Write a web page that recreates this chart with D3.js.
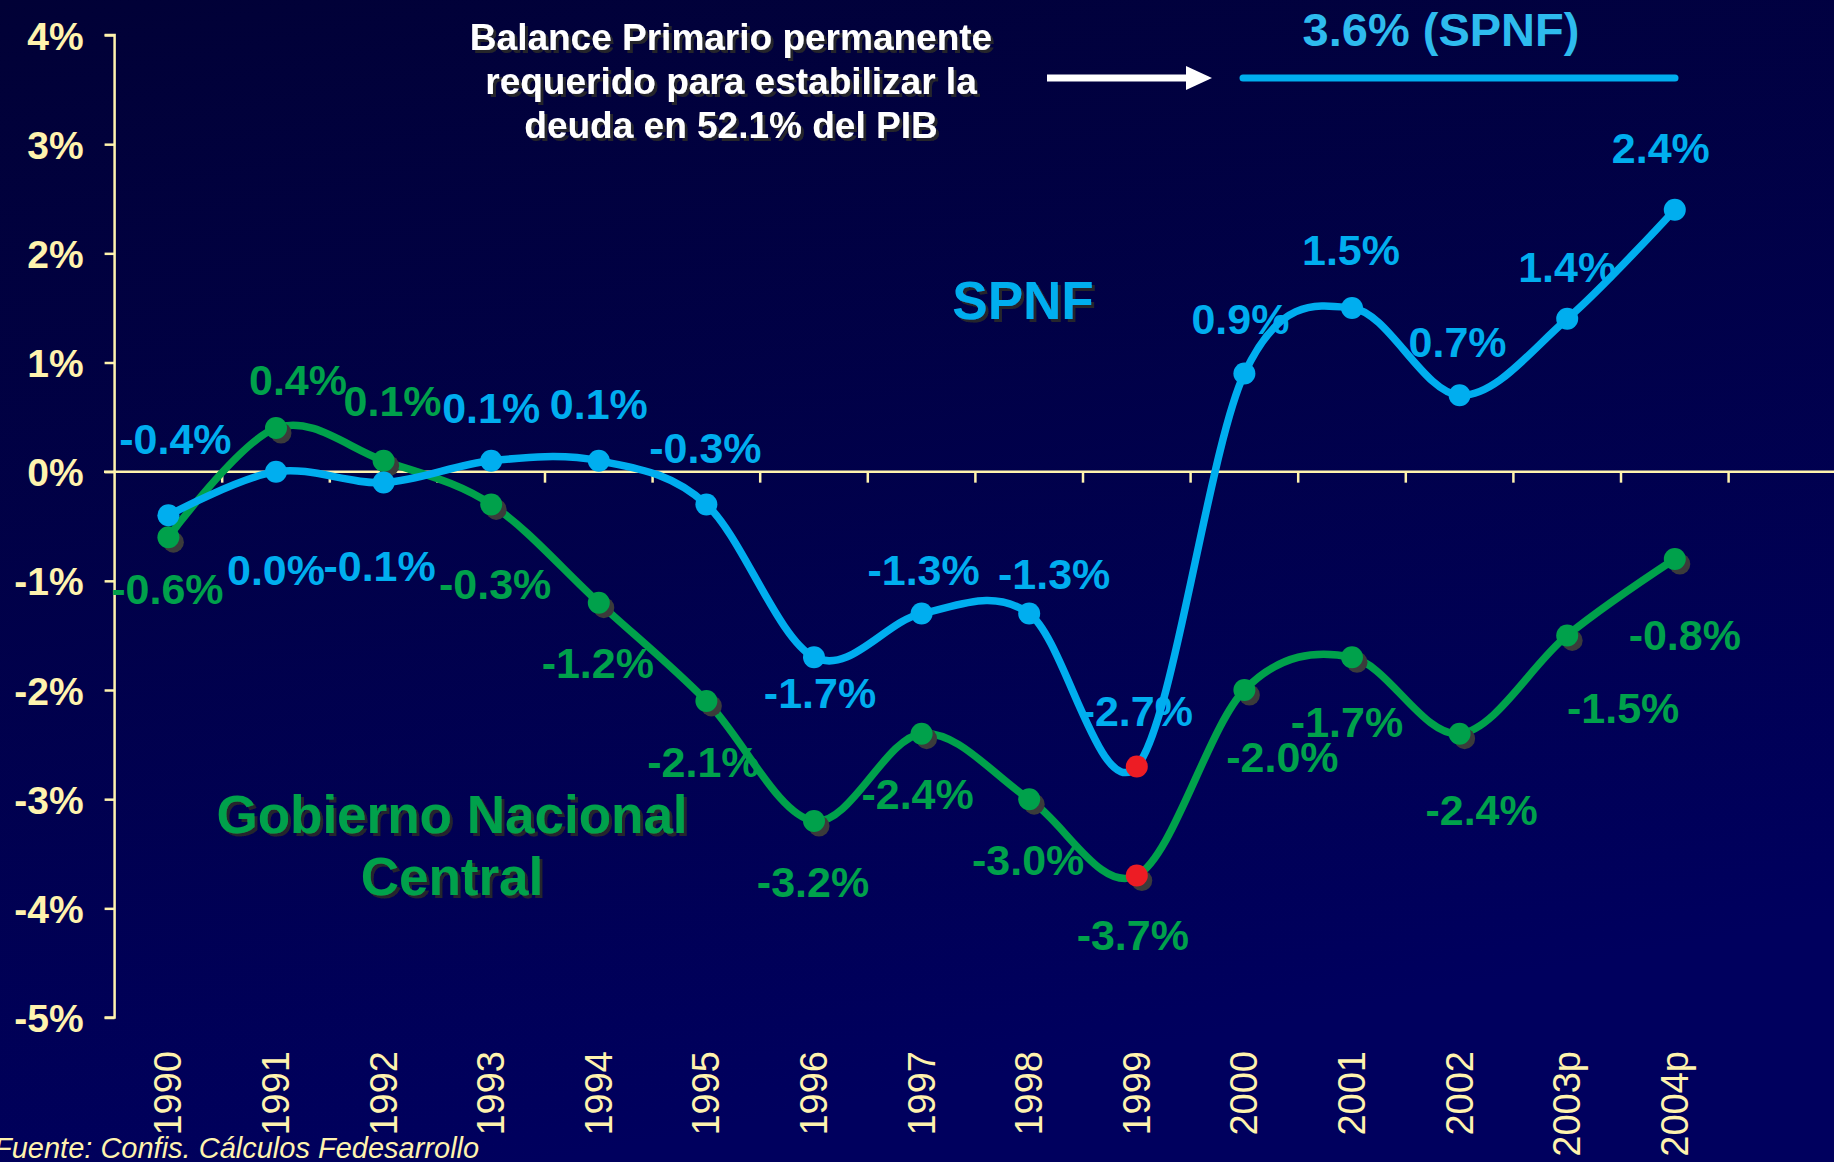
<!DOCTYPE html>
<html>
<head>
<meta charset="utf-8">
<script src="https://cdn.jsdelivr.net/npm/d3@7"></script>
<style>
  html, body { margin: 0; padding: 0; overflow: hidden; background: #000040; }
  svg { display: block; }
</style>
</head>
<body>
<div id="chart"></div>
<script>
'use strict';

// data
var years = ['1990','1991','1992','1993','1994','1995','1996','1997','1998','1999','2000','2001','2002','2003p','2004p'];
var spnf = [-0.4, 0.0, -0.1, 0.1, 0.1, -0.3, -1.7, -1.3, -1.3, -2.7, 0.9, 1.5, 0.7, 1.4, 2.4];
var gnc = [-0.6, 0.4, 0.1, -0.3, -1.2, -2.1, -3.2, -2.4, -3.0, -3.7, -2.0, -1.7, -2.4, -1.5, -0.8];
var yTicks = [4, 3, 2, 1, 0, -1, -2, -3, -4, -5];
var target = 3.6;
var highlightYear = '1999';

// label offsets from each point (layout only)
var spnfOff = [[7,-61],[0,113],[-4,98],[0,-38],[0,-42],[-1,-41],[6,51],[2,-29],[25,-25],[0,-40],[-4,-39],[-1,-43],[-2,-38],[0,-37],[-14,-47]];
var gncOff = [[-1,67],[22,-33],[9,-45],[4,95],[-1,75],[-3,76],[-1,76],[-4,75],[-1,76],[-4,74],[38,82],[-5,80],[22,91],[56,88],[10,91]];

var W = 1834, H = 1162;
var BLUE = '#00AEEF', GREEN = '#00A14B', RED = '#ED1C24', CREAM = '#FFF3AE';
var FONT = '"Liberation Sans", Arial, Helvetica, sans-serif';

var svg = d3.select('#chart').append('svg').attr('width', W).attr('height', H);

var defs = svg.append('defs');
var grad = defs.append('linearGradient').attr('id', 'bg')
  .attr('x1', 0).attr('y1', 0).attr('x2', 0.3).attr('y2', 1);
grad.append('stop').attr('offset', '0%').attr('stop-color', '#010136');
grad.append('stop').attr('offset', '100%').attr('stop-color', '#00005e');

var sh = defs.append('filter').attr('id', 'tshadow')
  .attr('x', '-10%').attr('y', '-10%').attr('width', '130%').attr('height', '130%');
sh.append('feDropShadow').attr('dx', 3).attr('dy', 3).attr('stdDeviation', 0.6)
  .attr('flood-color', '#2a2a2a').attr('flood-opacity', 0.9);

svg.append('rect').attr('width', W).attr('height', H).attr('fill', 'url(#bg)');

var x = d3.scaleBand().domain(years).range([114.6, 1728.6]);
var y = d3.scaleLinear().domain([-5, 4]).range([1017.5, 35]);
var cx = function(d, i) { return x(years[i]) + x.bandwidth() / 2; };

// y axis
var yAxis = d3.axisLeft(y).tickValues(yTicks).tickSize(10).tickPadding(21)
  .tickFormat(function(d) { return d + '%'; });
var gy = svg.append('g').attr('transform', 'translate(114.6,0)').call(yAxis);
gy.select('.domain').attr('stroke', CREAM).attr('stroke-width', 2.5)
  .attr('d', 'M-10,' + y(4) + 'H0V' + y(-5) + 'H-10');
gy.selectAll('.tick line').attr('stroke', CREAM).attr('stroke-width', 2.5);
gy.selectAll('.tick text').attr('fill', CREAM).attr('font-family', FONT)
  .attr('font-weight', 'bold').attr('font-size', 39).attr('dy', '0.36em');

// zero line with category ticks
svg.append('line').attr('x1', 104).attr('x2', W).attr('y1', y(0)).attr('y2', y(0))
  .attr('stroke', CREAM).attr('stroke-width', 2.5);
var xAxis = d3.axisBottom(x).tickSize(0).tickFormat('');
var gx = svg.append('g').attr('transform', 'translate(0,' + y(0) + ')').call(xAxis);
gx.select('.domain').remove();
gx.selectAll('.bound').data(years).enter().append('line')
  .attr('x1', function(d) { return x(d) + x.bandwidth(); })
  .attr('x2', function(d) { return x(d) + x.bandwidth(); })
  .attr('y1', 0).attr('y2', 11).attr('stroke', CREAM).attr('stroke-width', 2.5);

// rotated year labels
svg.append('g').selectAll('text').data(years).enter().append('text')
  .attr('transform', function(d) {
    return 'translate(' + (x(d) + x.bandwidth() / 2 + 13) + ',1051) rotate(-90)';
  })
  .attr('text-anchor', 'end').attr('fill', CREAM).attr('font-family', FONT)
  .attr('font-size', 38).text(function(d) { return d; });

// series
var line = d3.line().x(cx).y(function(d) { return y(d); }).curve(d3.curveCardinal.tension(0));

function drawSeries(vals, color, shadow) {
  var g = svg.append('g');
  g.append('path').datum(vals).attr('d', line).attr('fill', 'none')
    .attr('stroke', color).attr('stroke-width', 7.5).attr('stroke-linejoin', 'round');
  if (shadow) {
    g.selectAll('.sh').data(vals).enter().append('circle')
      .attr('cx', function(d, i) { return cx(d, i) + 5; })
      .attr('cy', function(d) { return y(d) + 5; })
      .attr('r', 10.5).attr('fill', '#3b3b3b');
  }
  g.selectAll('.pt').data(vals).enter().append('circle')
    .attr('cx', cx).attr('cy', function(d) { return y(d); })
    .attr('r', 11)
    .attr('fill', function(d, i) { return years[i] === highlightYear ? RED : color; });
}
drawSeries(gnc, GREEN, true);
drawSeries(spnf, BLUE, false);

// value labels (plain hyphen as on the slide)
function fmt(v) { return v.toFixed(1) + '%'; }
function drawLabels(vals, off, color) {
  svg.append('g').selectAll('text').data(vals).enter().append('text')
    .attr('x', function(d, i) { return cx(d, i) + off[i][0]; })
    .attr('y', function(d, i) { return y(d) + off[i][1]; })
    .attr('text-anchor', 'middle').attr('fill', color).attr('font-family', FONT)
    .attr('font-weight', 'bold').attr('font-size', 43).text(fmt);
}
drawLabels(spnf, spnfOff, BLUE);
drawLabels(gnc, gncOff, GREEN);

// annotation block
var note = svg.append('text').attr('fill', '#ffffff').attr('font-family', FONT)
  .attr('font-weight', 'bold').attr('font-size', 37).attr('text-anchor', 'middle')
  .attr('filter', 'url(#tshadow)');
['Balance Primario permanente', 'requerido para estabilizar la', 'deuda en 52.1% del PIB'].forEach(function(t, i) {
  note.append('tspan').attr('x', 731).attr('y', 50 + i * 44).text(t);
});

svg.append('line').attr('x1', 1047).attr('x2', 1190).attr('y1', 78).attr('y2', 78)
  .attr('stroke', '#ffffff').attr('stroke-width', 7);
svg.append('path').attr('d', 'M1186,66 L1212,78 L1186,90 Z').attr('fill', '#ffffff');

svg.append('line').attr('x1', 1243).attr('x2', 1675).attr('y1', 78).attr('y2', 78)
  .attr('stroke', BLUE).attr('stroke-width', 7).attr('stroke-linecap', 'round');
svg.append('text').attr('x', 1441).attr('y', 46).attr('text-anchor', 'middle')
  .attr('fill', '#2EBBEE').attr('font-family', FONT).attr('font-weight', 'bold')
  .attr('font-size', 47).text(fmt(target) + ' (SPNF)');

// series names
svg.append('text').attr('x', 1023).attr('y', 319).attr('text-anchor', 'middle')
  .attr('fill', BLUE).attr('font-family', FONT).attr('font-weight', 'bold')
  .attr('font-size', 53).attr('filter', 'url(#tshadow)').text('SPNF');
var gn = svg.append('text').attr('text-anchor', 'middle').attr('fill', GREEN)
  .attr('font-family', FONT).attr('font-weight', 'bold').attr('font-size', 53)
  .attr('filter', 'url(#tshadow)');
gn.append('tspan').attr('x', 452).attr('y', 833).text('Gobierno Nacional');
gn.append('tspan').attr('x', 452).attr('y', 895).text('Central');

// source
svg.append('text').attr('x', -6).attr('y', 1158).attr('fill', CREAM)
  .attr('font-family', FONT).attr('font-style', 'italic').attr('font-size', 29)
  .text('Fuente: Confis. Cálculos Fedesarrollo');
</script>
</body>
</html>
